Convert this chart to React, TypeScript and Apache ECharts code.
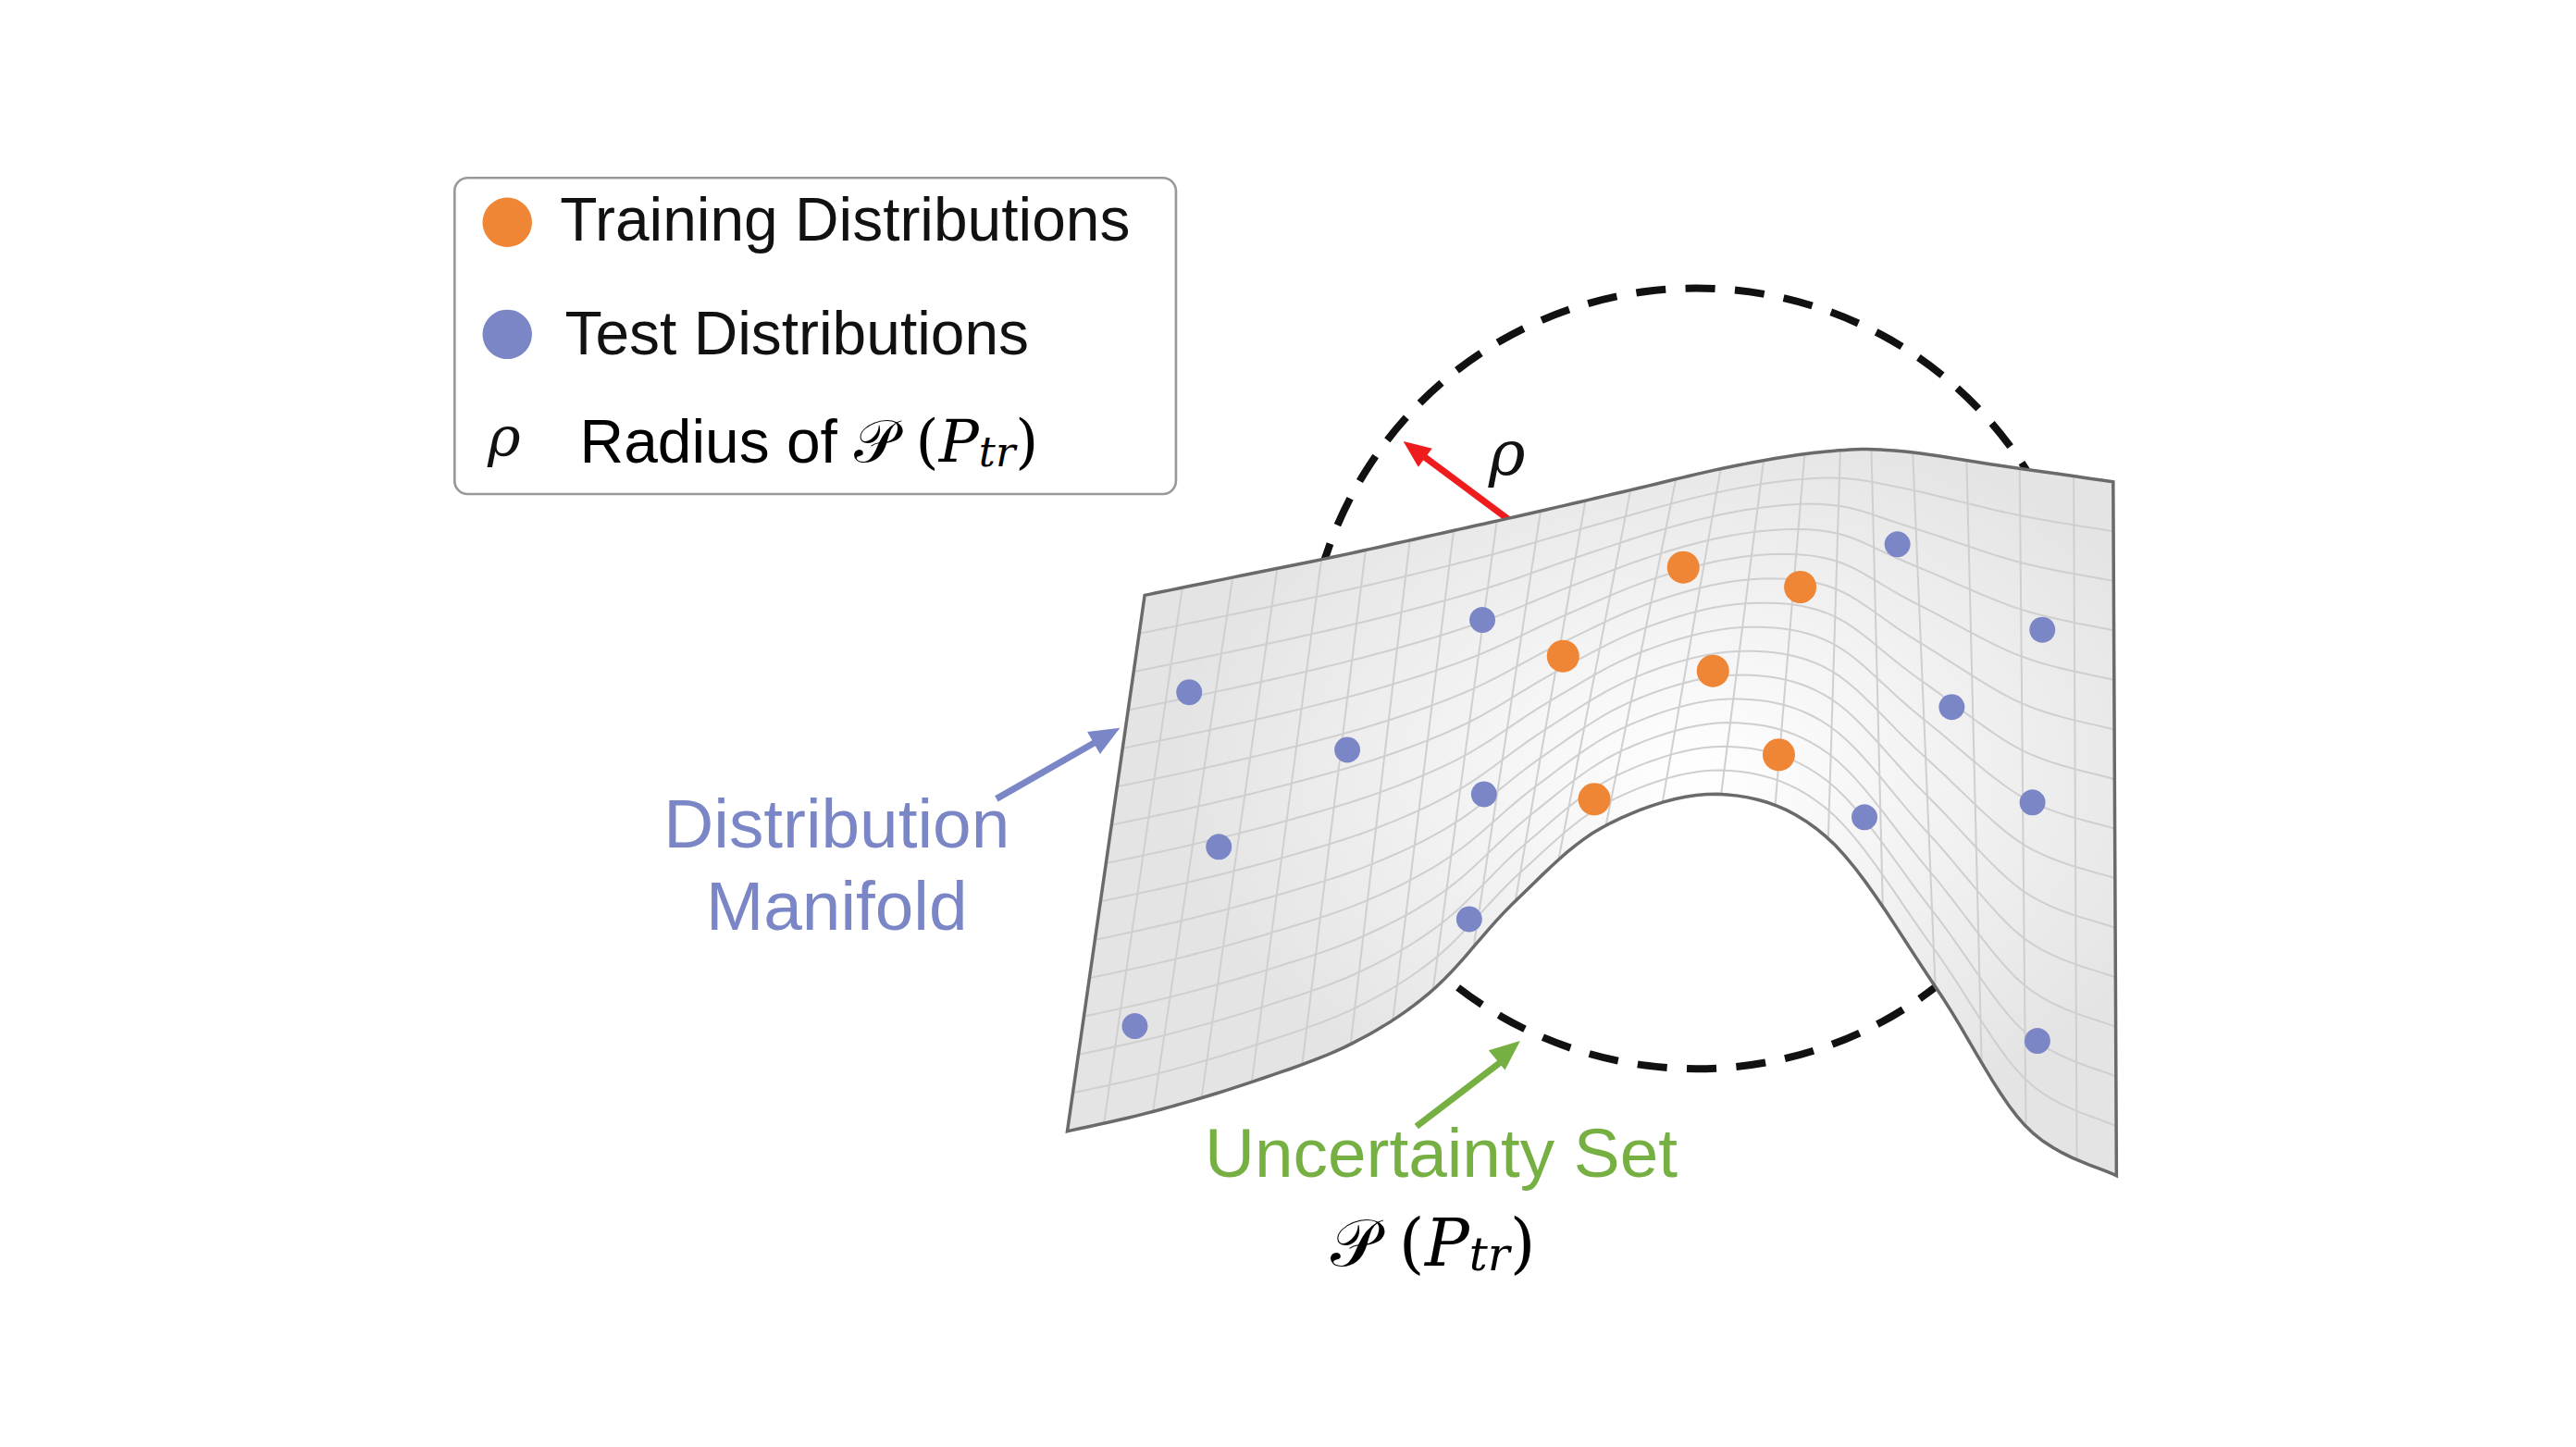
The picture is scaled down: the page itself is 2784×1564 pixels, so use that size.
import React, { useEffect, useRef } from "react";
import * as echarts from "echarts";

const W = 1564, H = 880;
const topEdge = [[695,362],[754,350],[813,338],[872,325],[930,312],[990,298],[1050,284],[1105,275],[1150,274],[1220,284],[1283,293]];
const bottomEdge = [[648,688],[700,676],[760,658],[820,635],[870,602],[920,548],[975,502],[1045,483],[1110,510],[1175,600],[1230,685],[1285,715]];
const trainPts = [[1022,345],[1093,357],[949,399],[1040,408],[1080,459],[968,486]];
const testPts = [[900,377],[1152,331],[1240,383],[722,421],[818,456],[1185,430],[901,483],[1132,497],[1234,488],[740,515],[892,559],[689,624],[1237,633]];

function interp(arr: number[][], t: number) {
  const n = arr.length - 1;
  const f = t * n;
  const i = Math.min(Math.floor(f), n - 1);
  const r = f - i;
  const p0 = arr[Math.max(i - 1, 0)], p1 = arr[i], p2 = arr[i + 1], p3 = arr[Math.min(i + 2, n)];
  const cr = (a: number, b: number, c: number, d: number) =>
    0.5 * (2 * b + (-a + c) * r + (2 * a - 5 * b + 4 * c - d) * r * r + (-a + 3 * b - 3 * c + d) * r * r * r);
  return [cr(p0[0], p1[0], p2[0], p3[0]), cr(p0[1], p1[1], p2[1], p3[1])];
}
function pt(u: number, v: number) {
  const a = interp(topEdge, u), b = interp(bottomEdge, u);
  return [a[0] + (b[0] - a[0]) * v, a[1] + (b[1] - a[1]) * v];
}

export default function App() {
  const ref = useRef<HTMLDivElement>(null);
  useEffect(() => {
    document.body.style.margin = "0";
    const chart = echarts.init(ref.current!, null, { renderer: "svg" });
    const k = 2784 / W;
    const serif = "'DejaVu Serif', 'Liberation Serif', serif";
    const sans = "'Liberation Sans', Arial, sans-serif";
    const renderItem = (params: any, api: any) => {
      const c = (p: number[]) => api.coord(p);
      const N = 120;
      const outline: number[][] = [];
      for (let i = 0; i <= N; i++) outline.push(c(pt(i / N, 0)));
      for (let i = N; i >= 0; i--) outline.push(c(pt(i / N, 1)));
      const children: any[] = [
        { type: "polygon", shape: { points: outline }, style: {
          fill: new echarts.graphic.RadialGradient(0.6, 0.45, 0.5, [
            { offset: 0, color: "#ffffff" }, { offset: 1, color: "#e4e4e4" }]),
          stroke: "none" } },
      ];
      for (let j = 1; j < 14; j++) {
        const pts: number[][] = [];
        for (let i = 0; i <= N; i++) pts.push(c(pt(i / N, j / 14)));
        children.push({ type: "polyline", shape: { points: pts }, style: { stroke: "#cfcfcf", lineWidth: 2, fill: "none" } });
      }
      for (let i = 1; i < 22; i++) {
        const pts: number[][] = [];
        for (let j = 0; j <= 20; j++) pts.push(c(pt(i / 22, j / 20)));
        children.push({ type: "polyline", shape: { points: pts }, style: { stroke: "#cfcfcf", lineWidth: 2, fill: "none" } });
      }
      children.push({ type: "polygon", shape: { points: outline }, style: { fill: "none", stroke: "#6a6a6a", lineWidth: 3.5 } });
      return { type: "group", children };
    };
    const arrowHead = (x1: number, y1: number, x2: number, y2: number, color: string, s: number) => {
      const a = Math.atan2(y2 - y1, x2 - x1);
      return { type: "polygon", shape: { points: [[x2, y2], [x2 - s * Math.cos(a - 0.4), y2 - s * Math.sin(a - 0.4)], [x2 - s * Math.cos(a + 0.4), y2 - s * Math.sin(a + 0.4)]] }, style: { fill: color } };
    };
    const line = (x1: number, y1: number, x2: number, y2: number, color: string, w: number) =>
      ({ type: "line", shape: { x1, y1, x2, y2 }, style: { stroke: color, lineWidth: w } });
    const ptrRich = (size: number) => ({
      m: { fontFamily: serif, fontStyle: "italic", fontSize: size, color: "#111" },
      s: { fontFamily: serif, fontStyle: "italic", fontSize: size * 0.7, color: "#111", padding: [size * 0.35, 0, 0, 0] },
      n: { fontFamily: serif, fontSize: size, color: "#111" },
    });
    const children: any[] = [
      { type: "rect", shape: { x: 276, y: 108, width: 438, height: 192, r: 8 }, style: { fill: "#fff", stroke: "#999", lineWidth: 1.5 } },
      { type: "circle", shape: { cx: 308, cy: 135, r: 15 }, style: { fill: "#ee8636" } },
      { type: "circle", shape: { cx: 308, cy: 203, r: 15 }, style: { fill: "#7b86c6" } },
      { type: "text", x: 340, y: 133, style: { text: "Training Distributions", font: `37px ${sans}`, fill: "#111", verticalAlign: "middle" } },
      { type: "text", x: 343, y: 202, style: { text: "Test Distributions", font: `37px ${sans}`, fill: "#111", verticalAlign: "middle" } },
      { type: "text", x: 296, y: 265, style: { text: "ρ", font: `italic 34px ${serif}`, fill: "#111", verticalAlign: "middle" } },
      { type: "text", x: 352, y: 268, style: { text: "{a|Radius of }{n|𝒫 (}{m|P}{s|tr}{n|)}", verticalAlign: "middle", rich: { a: { fontFamily: sans, fontSize: 37, color: "#111" }, ...ptrRich(36) } } },
      { type: "circle", shape: { cx: 1030, cy: 412, r: 237 }, style: { fill: "none", stroke: "#111", lineWidth: 4.5, lineDash: [18, 12] } },
      line(863, 276, 1020, 393, "#ee1c1c", 4),
      arrowHead(1020, 393, 1031, 401, "#ee1c1c", 18),
      arrowHead(1031, 401, 852, 268, "#ee1c1c", 18),
      { type: "text", x: 915, y: 275, style: { text: "ρ", font: `italic 38px ${serif}`, fill: "#111", align: "center", verticalAlign: "middle" } },
      { type: "text", x: 1026, y: 378, style: { text: "{m|P}{s|tr}", verticalAlign: "middle", rich: ptrRich(34) } },
      { type: "text", x: 508, y: 500, style: { text: "Distribution", font: `42px ${sans}`, fill: "#7b86c6", align: "center", verticalAlign: "middle" } },
      { type: "text", x: 508, y: 550, style: { text: "Manifold", font: `42px ${sans}`, fill: "#7b86c6", align: "center", verticalAlign: "middle" } },
      line(605, 485, 668, 449, "#7b86c6", 4),
      arrowHead(605, 485, 680, 442, "#7b86c6", 20),
      { type: "text", x: 875, y: 700, style: { text: "Uncertainty Set", font: `42px ${sans}`, fill: "#76b043", align: "center", verticalAlign: "middle" } },
      line(860, 684, 915, 642, "#76b043", 4),
      arrowHead(860, 684, 923, 632, "#76b043", 20),
      { type: "text", x: 870, y: 755, style: { text: "{n|𝒫 (}{m|P}{s|tr}{n|)}", align: "center", verticalAlign: "middle", rich: ptrRich(40) } },
    ];
    chart.setOption({
      animation: false,
      grid: { left: 0, right: 0, top: 0, bottom: 0 },
      xAxis: { type: "value", min: 0, max: W, show: false },
      yAxis: { type: "value", min: 0, max: H, inverse: true, show: false },
      series: [
        { type: "custom", renderItem, data: [[0, 0]], z: 1, silent: true },
        { type: "scatter", data: testPts, symbolSize: 28, itemStyle: { color: "#7b86c6", opacity: 1 }, z: 20 },
        { type: "scatter", data: trainPts, symbolSize: 35, itemStyle: { color: "#ee8636", opacity: 1 }, z: 20 },
      ],
      graphic: [{ type: "group", x: 0, y: 0, scaleX: k, scaleY: k, z: 10, children }],
    });
    return () => chart.dispose();
  }, []);
  return <div ref={ref} style={{ width: 2784, height: 1564, background: "#fff" }} />;
}
